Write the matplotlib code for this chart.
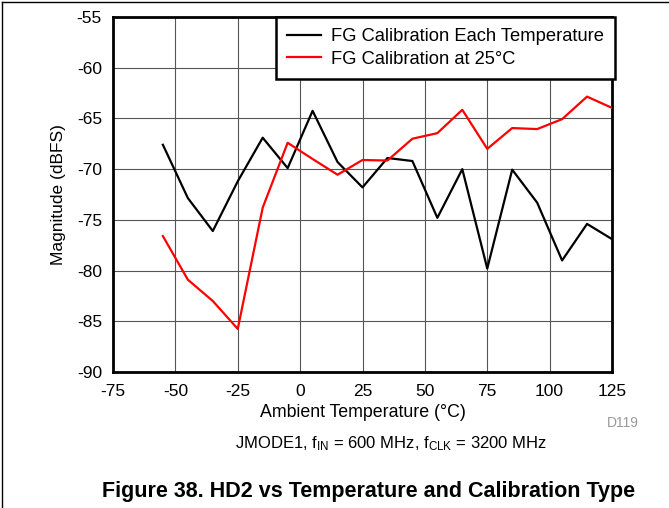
import matplotlib
matplotlib.use("Agg")
import matplotlib.pyplot as plt
from matplotlib.lines import Line2D

plt.rcParams['font.family'] = ['Liberation Sans', 'DejaVu Sans']
plt.rcParams['mathtext.fontset'] = 'custom'
plt.rcParams['mathtext.rm'] = 'Liberation Sans'
plt.rcParams['mathtext.it'] = 'Liberation Sans:italic'
plt.rcParams['mathtext.bf'] = 'Liberation Sans:bold'

temps = [-55, -45, -35, -25, -15, -5, 5, 15, 25, 35, 45, 55, 65, 75, 85, 95, 105, 115, 125]
fg_each = [-67.6, -72.85, -76.1, -71.2, -66.9, -69.9, -64.25, -69.3, -71.8, -68.9, -69.2,
           -74.8, -70.0, -79.8, -70.05, -73.3, -79.0, -75.4, -76.9]
fg_25 = [-76.6, -80.9, -83.0, -85.75, -73.8, -67.4, -69.0, -70.55, -69.1, -69.15, -67.0,
         -66.45, -64.15, -68.0, -65.95, -66.05, -65.07, -62.85, -63.96]
labels = ["FG Calibration Each Temperature", "FG Calibration at 25°C"]
xticks = [-75, -50, -25, 0, 25, 50, 75, 100, 125]
yticks = [-55, -60, -65, -70, -75, -80, -85, -90]

W, H = 669, 508
fig = plt.figure(figsize=(W / 100, H / 100), dpi=100)
ax = fig.add_axes([113 / W, 1 - 372 / H, (612 - 113) / W, (372 - 17) / H])

ax.plot(temps, fg_each, color='black', lw=1.6, label=labels[0], zorder=3)
ax.plot(temps, fg_25, color='#ff0000', lw=1.6, label=labels[1], zorder=3)

ax.set_xlim(-75, 125)
ax.set_ylim(-90, -55)
ax.set_xticks(xticks)
ax.set_yticks(yticks)
ax.set_xticklabels([str(t) for t in xticks])
ax.set_yticklabels([str(t) for t in yticks])
ax.tick_params(axis='both', length=0, labelsize=12.5, colors='black')
ax.tick_params(axis='x', pad=9)
ax.tick_params(axis='y', pad=8)
ax.grid(True, color='#555555', lw=0.8, zorder=1)
for s in ax.spines.values():
    s.set_linewidth(2.0)
    s.set_color('black')

ax.set_xlabel("Ambient Temperature (°C)", fontsize=12.8, labelpad=3)
ax.set_ylabel("Magnitude (dBFS)", fontsize=12.5, labelpad=8)

leg = ax.legend(loc='upper right', bbox_to_anchor=(1.007, 1.0), fontsize=13.2,
                frameon=True, fancybox=False, framealpha=1, edgecolor='black',
                borderpad=0.6, handlelength=1.9, handletextpad=0.55, labelspacing=0.3,
                borderaxespad=0.0)
leg.get_frame().set_linewidth(1.8)
leg.set_zorder(5)

fig.text(623 / W, 1 - 423 / H, "D119", fontsize=10, color='#999999', ha='center', va='center')
fig.text(391 / W, 1 - 444 / H,
         r"JMODE1, f$_\mathregular{IN}$ = 600 MHz, f$_\mathregular{CLK}$ = 3200 MHz",
         fontsize=12.0, ha='center', va='center')
fig.text(369 / W, 1 - 492 / H, "Figure 38. HD2 vs Temperature and Calibration Type",
         fontsize=15.5, fontweight='bold', ha='center', va='center')

fig.add_artist(Line2D([2 / W, 2 / W], [0, 1 - 2 / H], color='black', lw=1.0, transform=fig.transFigure))
fig.add_artist(Line2D([2 / W, 1], [1 - 2 / H, 1 - 2 / H], color='black', lw=1.0, transform=fig.transFigure))

fig.savefig("out.png", dpi=100)
